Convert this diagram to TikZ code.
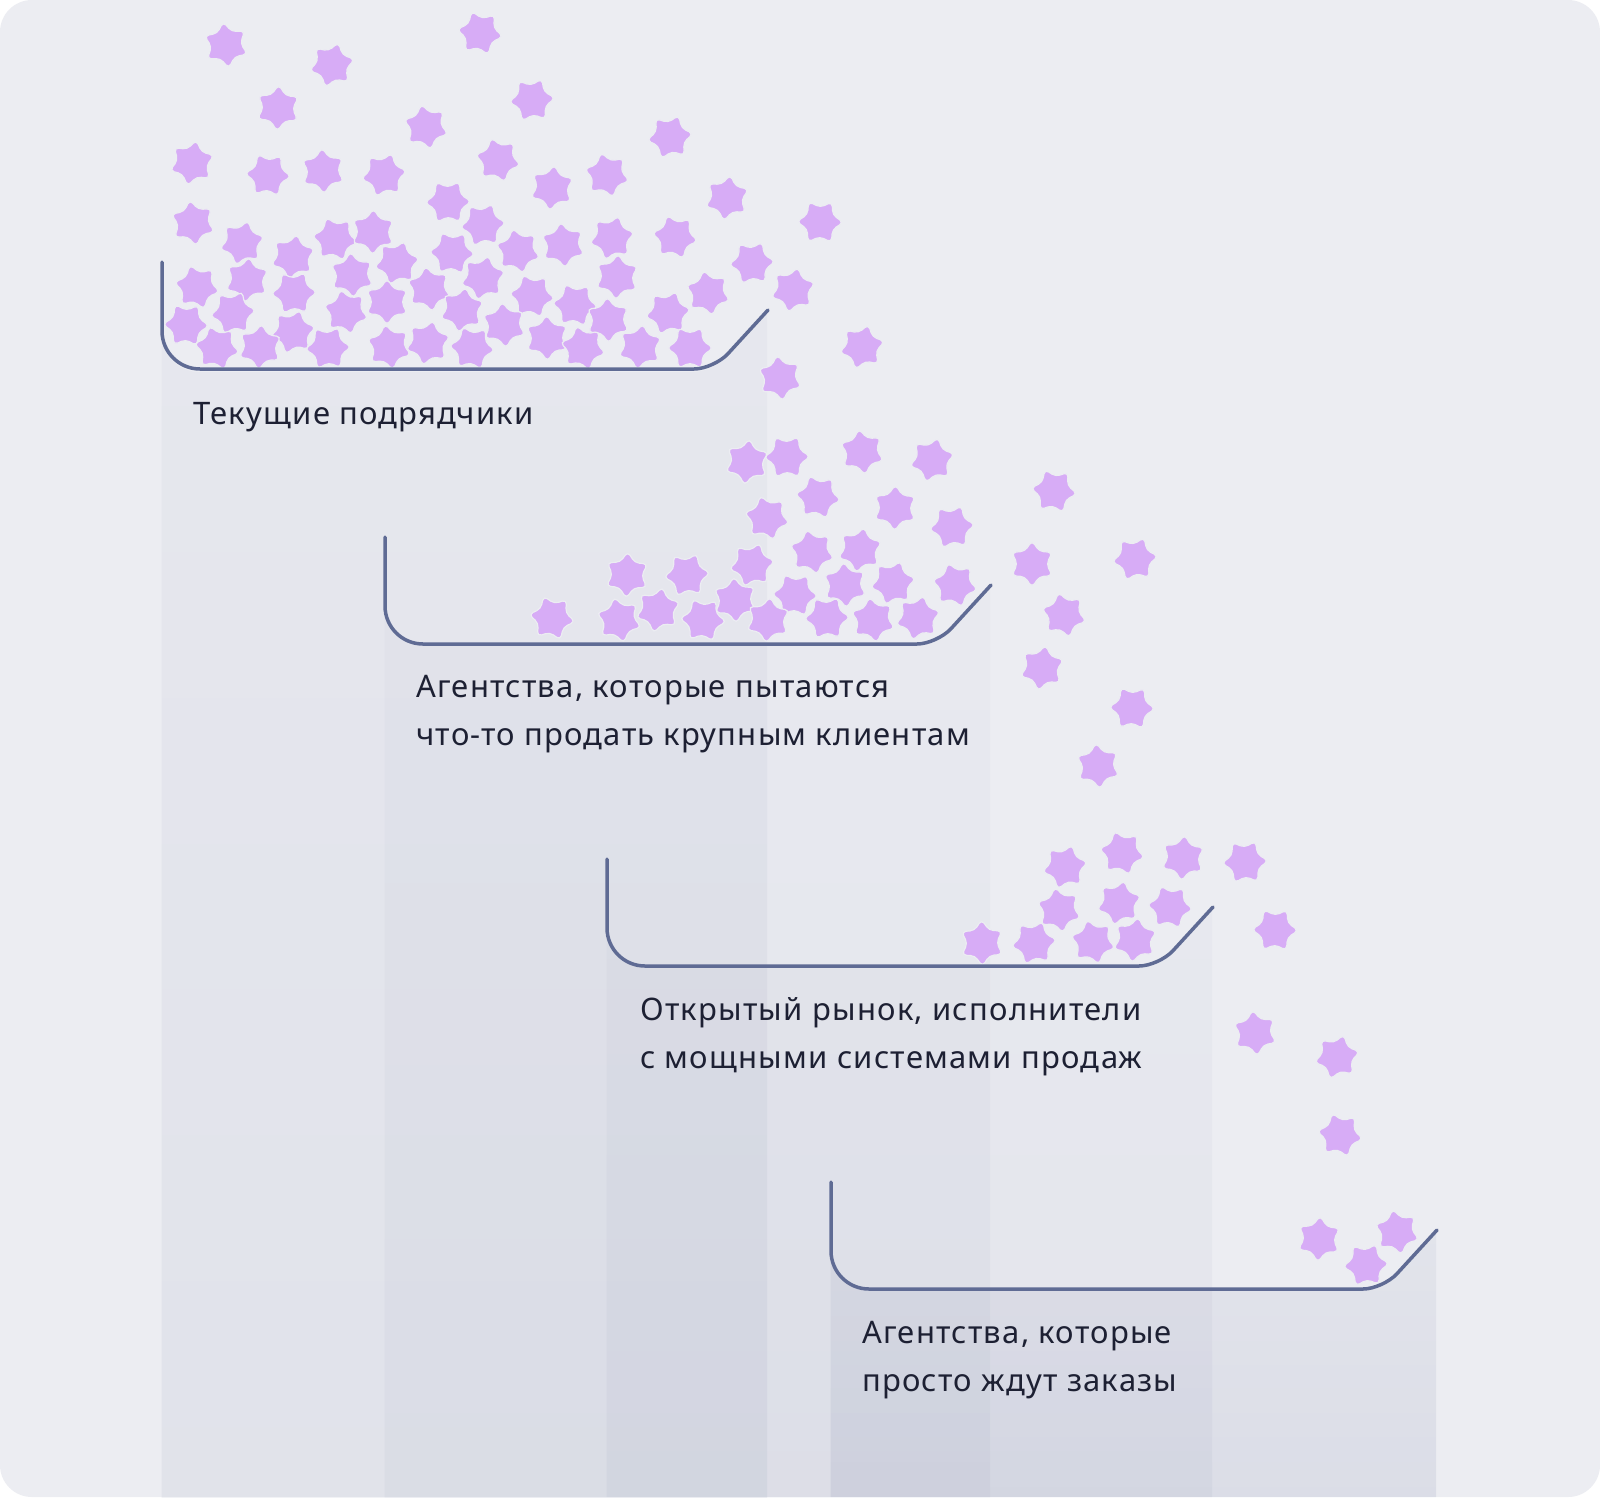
\documentclass[tikz,border=0pt]{standalone}
\usepackage{fontspec}
\setmainfont{Noto Sans}[LetterSpace=4]
\usetikzlibrary{fadings}
\definecolor{rbBg}{HTML}{ECEDF2}
\definecolor{rbStar}{HTML}{D7ACF6}
\definecolor{rbRim}{HTML}{5F6B94}
\definecolor{rbInk}{HTML}{1D2033}
\definecolor{rbShade}{HTML}{4C5888}
\tikzfading[name=colfade, top color=transparent!50, bottom color=transparent!0]
\tikzset{
  rim/.style={draw=rbRim, line width=3.5pt, line cap=round},
  colfill/.style={fill=rbShade, path fading=colfade},
  lbl/.style={anchor=base west, align=left, inner sep=0pt, text=rbInk, font=\fontsize{31}{48}\selectfont},
  pics/sparkle/.style={code={
    \fill[rbStar, draw=rbBg, line width=1.2pt, rounded corners=4.5pt] (0:23.5)
      \foreach \k in {1,...,5}{ -- (\k*60-30:14.5) -- (\k*60:23.5)} -- (330:14.5) -- cycle;
  }},
}

\begin{document}
\begin{tikzpicture}[x=1pt, y=-1pt]
  \useasboundingbox (0,0) rectangle (1600,1497);
  \fill[white] (0,0) rectangle (1600,1497);
  \fill[rbBg, rounded corners=32pt] (0,0) rectangle (1600,1497);
  % columns under the trays
  \foreach \L/\B/\a in {162/369/0.065, 385/644/0.045, 607/966/0.05, 831/1289/0.1}
    \fill[colfill, fill opacity=\a] (\L,\B-107) -- (\L,\B-38) .. controls (\L,\B-17) and (\L+17,\B) .. (\L+38,\B)
      -- (\L+532,\B) .. controls (\L+543,\B) and (\L+558,\B-7) .. (\L+565.5,\B-14.8) -- (\L+606,\B-59)
      -- (\L+606,1497) -- (\L,1497) -- cycle;
  % stars
  \foreach \x/\y [count=\i] in {226/45, 332/65, 480/33, 278/108, 532/100, 426/127, 192/163, 268/175, 323/171, 384/175,
      498/160, 552/188, 448/202, 193/223, 242/243, 335/239, 373/232, 483/225, 518/251, 293/257,
      452/253, 352/275, 397/263, 197/287, 247/280, 294/293, 429/289, 483/278, 532/296, 387/302,
      233/313, 346/312, 462/310, 186/325, 504/325, 293/332, 217/348, 260/347, 328/348, 389/347,
      428/343, 472/348, 547/338,
      670/137, 607/175, 727/198, 820/222, 563/245, 612/238, 675/237, 617/277, 752/263, 708/293,
      793/290, 575/305, 608/320, 668/313, 583/348, 640/347, 690/348, 780/378, 862/347,
      552/618, 627/575, 687/575, 619/620, 658/610, 703/620, 735/600, 752/565, 767/518, 747/462,
      787/457, 862/452, 932/460, 818/497, 895/508, 952/527, 812/552, 860/550, 795/595, 845/585,
      893/583, 955/585, 768/620, 827/618, 873/620, 918/618,
      1054/491, 1032/564, 1135/559, 1064/615, 1042/668, 1132/708, 1098/766,
      1065/867, 1122/853, 1183/858, 1245/862, 1059/910, 1119/903, 1170/907, 982/943, 1034/943,
      1093/942, 1135/940, 1275/930,
      1255/1033, 1337/1057, 1340/1135, 1319/1239, 1366/1265, 1397/1232}
    \pic[rotate={mod(37*\i,60)}] at (\x,\y) {sparkle};
  % tray rims
  \foreach \L/\B in {162/369, 385/644, 607/966, 831/1289}
    \draw[rim] (\L,\B-107) -- (\L,\B-38) .. controls (\L,\B-17) and (\L+17,\B) .. (\L+38,\B)
      -- (\L+532,\B) .. controls (\L+543,\B) and (\L+558,\B-7) .. (\L+565.5,\B-14.8) -- (\L+606,\B-59);
  % labels (base = last line)
  \node[lbl] (tCurrent) at (193,424) {Текущие подрядчики};
  \node[lbl] (tLarge) at (416,745) {Агентства, которые пытаются\\что-то продать крупным клиентам};
  \node[lbl] (tOpen) at (640,1068) {Открытый рынок, исполнители\\с мощными системами продаж};
  \node[lbl] (tWait) at (862,1391) {Агентства, которые\\просто ждут заказы};
\end{tikzpicture}
\end{document}
